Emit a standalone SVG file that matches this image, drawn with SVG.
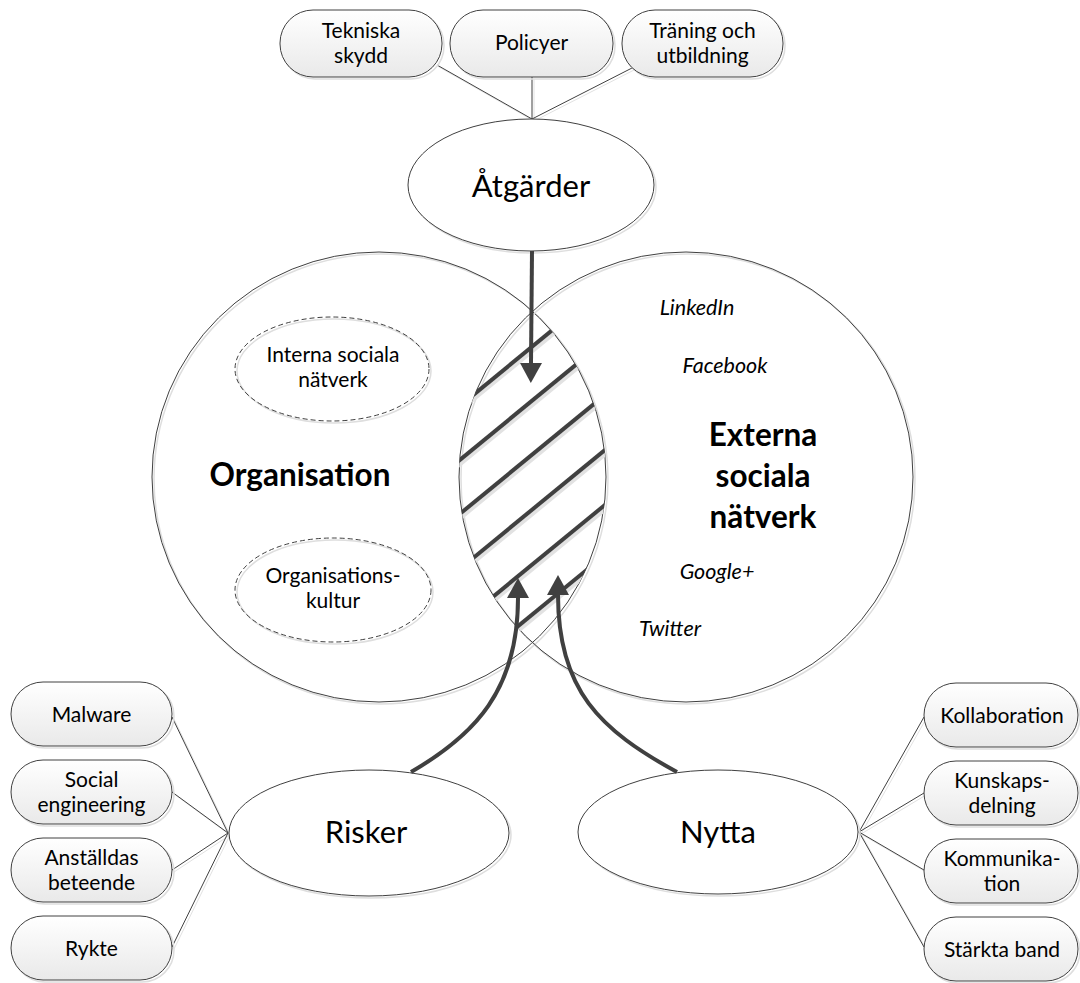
<svg xmlns="http://www.w3.org/2000/svg" width="1080" height="983" viewBox="0 0 1080 983">
<defs>
<style>
.txt{font-family:Lato,"Liberation Sans",sans-serif;fill:#000;text-anchor:middle}
.s{font-size:21px}
.big{font-size:31px}
.bold{font-size:31.5px;font-weight:bold}
.it{font-size:21.5px;font-style:italic}
.ol{fill:none;stroke:#404040;stroke-width:1}
.wf{fill:#fff;stroke:#404040;stroke-width:1}
.sh{fill:none;stroke:#dedede;stroke-width:1.5}
.box{fill:url(#g);stroke:#404040;stroke-width:1}
.dash{fill:none;stroke:#404040;stroke-width:1;stroke-dasharray:5 3}
.con{stroke:#404040;stroke-width:1;fill:none}
.hatch{stroke:#404040;stroke-width:4}
.arr{stroke:#404040;stroke-width:4;fill:none}
</style>
<linearGradient id="g" x1="0" y1="0" x2="0" y2="1">
<stop offset="0" stop-color="#ffffff"/>
<stop offset="1" stop-color="#e9e9e9"/>
</linearGradient>
<marker id="ah" markerUnits="userSpaceOnUse" markerWidth="22" markerHeight="24" viewBox="0 -12 22 24" refX="0" refY="0" orient="auto">
<path d="M0,-11 L20,0 L0,11 Z" fill="#404040"/>
</marker>
<clipPath id="cA"><ellipse cx="379" cy="477" rx="227" ry="225"/></clipPath>
<clipPath id="cB"><ellipse cx="686" cy="477" rx="227" ry="225"/></clipPath>
</defs>
<rect width="1080" height="983" fill="#fff"/>

<g id="organisation">
<ellipse class="sh" cx="381" cy="479" rx="227" ry="225"/>
<ellipse class="ol" cx="379" cy="477" rx="227" ry="225"/>
<text class="txt bold" x="300" y="486">Organisation</text>
</g>
<g id="externa">
<ellipse class="sh" cx="688" cy="479" rx="227" ry="225"/>
<ellipse class="ol" cx="686" cy="477" rx="227" ry="225"/>
<text class="txt bold" x="763" y="446">Externa</text>
<text class="txt bold" x="763" y="487">sociala</text>
<text class="txt bold" x="763" y="528">nätverk</text>
<text class="txt it" x="697" y="315">LinkedIn</text>
<text class="txt it" x="725" y="373">Facebook</text>
<text class="txt it" x="717" y="579">Google+</text>
<text class="txt it" x="670" y="636">Twitter</text>
</g>

<g id="overlap">
<g clip-path="url(#cA)"><g clip-path="url(#cB)">
<g stroke="#e2e2e2" stroke-width="4" transform="translate(2,3)">
<line x1="440" y1="422.2" x2="640" y2="258.2"/>
<line x1="440" y1="476.2" x2="640" y2="312.2"/>
<line x1="440" y1="530.2" x2="640" y2="366.2"/>
<line x1="440" y1="585.2" x2="640" y2="421.2"/>
<line x1="440" y1="640.2" x2="640" y2="476.2"/>
<line x1="440" y1="690.2" x2="640" y2="526.2"/>
</g>
<g class="hatch">
<line x1="440" y1="422.2" x2="640" y2="258.2"/>
<line x1="440" y1="476.2" x2="640" y2="312.2"/>
<line x1="440" y1="530.2" x2="640" y2="366.2"/>
<line x1="440" y1="585.2" x2="640" y2="421.2"/>
<line x1="440" y1="640.2" x2="640" y2="476.2"/>
<line x1="440" y1="690.2" x2="640" y2="526.2"/>
</g>
</g></g>
</g>

<g id="interna">
<ellipse class="sh" cx="334" cy="371" rx="97" ry="52"/>
<ellipse class="dash" cx="332" cy="369" rx="97" ry="52"/>
<text class="txt s" x="333" y="362">Interna sociala</text>
<text class="txt s" x="333" y="387">nätverk</text>
</g>
<g id="kultur">
<ellipse class="sh" cx="335" cy="592" rx="98" ry="52"/>
<ellipse class="dash" cx="333" cy="590" rx="98" ry="52"/>
<text class="txt s" x="333" y="583">Organisations-</text>
<text class="txt s" x="333" y="608">kultur</text>
</g>

<g id="connectors">
<g stroke="#e2e2e2" stroke-width="1" fill="none" transform="translate(2,2)">
<line x1="437" y1="65" x2="532" y2="119"/><line x1="532" y1="77" x2="532" y2="119"/><line x1="632" y1="68" x2="532" y2="119"/>
<line x1="172" y1="717" x2="228" y2="833"/><line x1="172" y1="792" x2="228" y2="833"/><line x1="172" y1="870" x2="228" y2="833"/><line x1="172" y1="947" x2="228" y2="833"/>
<line x1="924" y1="717" x2="859" y2="832"/><line x1="924" y1="793" x2="859" y2="832"/><line x1="924" y1="870" x2="859" y2="832"/><line x1="924" y1="947" x2="859" y2="832"/>
</g>
<g class="con">
<line x1="437" y1="65" x2="532" y2="119"/><line x1="532" y1="77" x2="532" y2="119"/><line x1="632" y1="68" x2="532" y2="119"/>
<line x1="172" y1="717" x2="228" y2="833"/><line x1="172" y1="792" x2="228" y2="833"/><line x1="172" y1="870" x2="228" y2="833"/><line x1="172" y1="947" x2="228" y2="833"/>
<line x1="924" y1="717" x2="859" y2="832"/><line x1="924" y1="793" x2="859" y2="832"/><line x1="924" y1="870" x2="859" y2="832"/><line x1="924" y1="947" x2="859" y2="832"/>
</g>
</g>

<g id="atgarder">
<ellipse class="sh" cx="533" cy="187" rx="123" ry="66"/>
<ellipse class="wf" cx="531" cy="185" rx="123" ry="66"/>
<text class="txt big" x="531" y="197">Åtgärder</text>
</g>
<g id="risker">
<ellipse class="sh" cx="371" cy="835" rx="140" ry="63"/>
<ellipse class="wf" cx="369" cy="833" rx="140" ry="63"/>
<text class="txt big" x="366" y="843">Risker</text>
</g>
<g id="nytta">
<ellipse class="sh" cx="720" cy="834" rx="140" ry="62"/>
<ellipse class="wf" cx="718" cy="832" rx="140" ry="62"/>
<text class="txt big" x="718" y="843">Nytta</text>
</g>

<g id="tekniska"><rect class="sh" x="282" y="12" width="162" height="67" rx="33"/><rect class="box" x="280" y="10" width="162" height="67" rx="33"/>
<text class="txt s" x="361" y="38">Tekniska</text><text class="txt s" x="361" y="63">skydd</text></g>
<g id="policyer"><rect class="sh" x="452" y="12" width="163" height="67" rx="33"/><rect class="box" x="450" y="10" width="163" height="67" rx="33"/>
<text class="txt s" x="531.5" y="50">Policyer</text></g>
<g id="traning"><rect class="sh" x="624" y="12" width="161" height="67" rx="33"/><rect class="box" x="622" y="10" width="161" height="67" rx="33"/>
<text class="txt s" x="702.5" y="38">Träning och</text><text class="txt s" x="702.5" y="63">utbildning</text></g>

<g id="malware"><rect class="sh" x="13" y="684" width="161" height="64" rx="32"/><rect class="box" x="11" y="682" width="161" height="64" rx="32"/>
<text class="txt s" x="91.5" y="722">Malware</text></g>
<g id="social"><rect class="sh" x="13" y="762" width="161" height="64" rx="32"/><rect class="box" x="11" y="760" width="161" height="64" rx="32"/>
<text class="txt s" x="91.5" y="787">Social</text><text class="txt s" x="91.5" y="812">engineering</text></g>
<g id="anstalldas"><rect class="sh" x="13" y="840" width="161" height="64" rx="32"/><rect class="box" x="11" y="838" width="161" height="64" rx="32"/>
<text class="txt s" x="91.5" y="865">Anställdas</text><text class="txt s" x="91.5" y="890">beteende</text></g>
<g id="rykte"><rect class="sh" x="13" y="918" width="161" height="64" rx="32"/><rect class="box" x="11" y="916" width="161" height="64" rx="32"/>
<text class="txt s" x="91.5" y="956">Rykte</text></g>

<g id="kollaboration"><rect class="sh" x="926" y="685" width="154" height="64" rx="32"/><rect class="box" x="924" y="683" width="154" height="64" rx="32"/>
<text class="txt s" x="1002" y="723">Kollaboration</text></g>
<g id="kunskap"><rect class="sh" x="926" y="763" width="154" height="64" rx="32"/><rect class="box" x="924" y="761" width="154" height="64" rx="32"/>
<text class="txt s" x="1002" y="788">Kunskaps-</text><text class="txt s" x="1002" y="813">delning</text></g>
<g id="kommunikation"><rect class="sh" x="926" y="841" width="154" height="64" rx="32"/><rect class="box" x="924" y="839" width="154" height="64" rx="32"/>
<text class="txt s" x="1002" y="866">Kommunika-</text><text class="txt s" x="1002" y="891">tion</text></g>
<g id="starkta"><rect class="sh" x="926" y="919" width="154" height="64" rx="32"/><rect class="box" x="924" y="917" width="154" height="64" rx="32"/>
<text class="txt s" x="1002" y="957">Stärkta band</text></g>

<g id="arrows">
<path class="arr" d="M532,251 L531,363" marker-end="url(#ah)"/>
<path class="arr" d="M411,772 C475,735 518,690 518,598" marker-end="url(#ah)"/>
<path class="arr" d="M677,772 C600,730 558,690 558,595" marker-end="url(#ah)"/>
</g>
</svg>
